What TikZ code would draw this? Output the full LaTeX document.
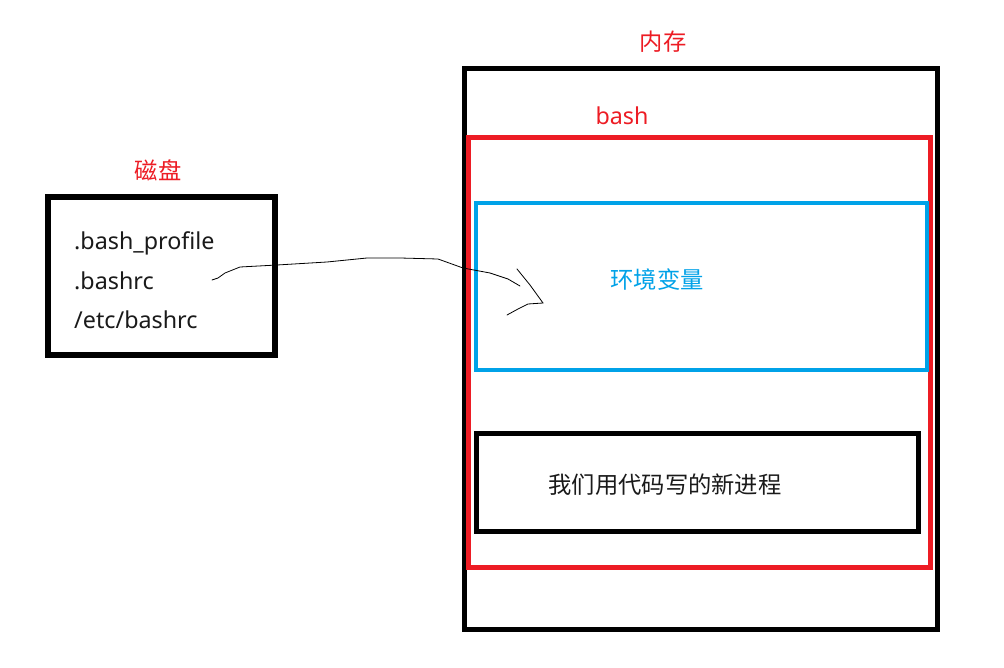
\documentclass[tikz,border=0pt]{standalone}
\usepackage{fontspec}
\setmainfont{Noto Sans}
\newfontfamily\cjk{Noto Sans CJK SC}
\definecolor{paintred}{HTML}{ED1C24}
\definecolor{paintblue}{HTML}{00A2E8}
\definecolor{ink}{HTML}{1A1A1A}
\tikzset{
  frame/.style={draw, line width=#1},
  cjklabel/.style={font=\cjk\fontsize{23.3}{27}\selectfont, inner sep=0pt},
  filelabel/.style={font=\fontsize{23.3}{27}\selectfont, inner sep=0pt, anchor=west, text=ink},
  pen/.style={line width=0.8pt, line cap=round, line join=round}
}
\begin{document}
\begin{tikzpicture}[x=1pt, y=-1pt]
  \useasboundingbox (0,0) rectangle (1004,668);
  \fill[white] (0,0) rectangle (1004,668);

  % disk with startup files
  \draw[frame=6pt] (48,197) rectangle (275,355);
  \node[cjklabel, text=paintred] (disklabel) at (158,170) {磁盘};
  \node[filelabel] (f1) at (74,243) {.bash\_profile};
  \node[filelabel] (f2) at (74,281) {.bashrc};
  \node[filelabel] (f3) at (74,320) {/etc/bashrc};

  % memory
  \draw[frame=5pt] (464.5,68.5) rectangle (937.5,629.5);
  \node[cjklabel, text=paintred] (memlabel) at (663,42) {内存};

  % bash process
  \draw[frame=5pt, paintred] (468.5,137.5) rectangle (930.5,567.5);
  \node[font=\fontsize{23.3}{27}\selectfont, inner sep=0pt, text=paintred] (bashlabel) at (622,116) {bash};

  % environment variables
  \draw[frame=4pt, paintblue] (476,203) rectangle (927,370);
  \node[cjklabel, text=paintblue] (env) at (657,280) {环境变量};

  % child process
  \draw[frame=5pt] (476.5,433.5) rectangle (918.5,531.5);
  \node[cjklabel, text=ink] (child) at (665,485) {我们用代码写的新进程};

  % hand-drawn arrow from the files into the environment
  \coordinate (src) at (212,280);
  \coordinate (dst) at (520,286);
  \coordinate (tip) at (543,303);
  \draw[pen] (src) -- (218,278) -- (225,273) -- (240,267) -- (277,265)
    -- (327,262) -- (367,258) -- (400,258) -- (438,259) -- (463,268)
    -- (490,273) -- (508,279) -- (dst);
  \draw[pen] (517,269) -- (530,285) -- (tip);
  \draw[pen] (tip) -- (528,304) -- (518,309) -- (507,315);
\end{tikzpicture}
\end{document}
